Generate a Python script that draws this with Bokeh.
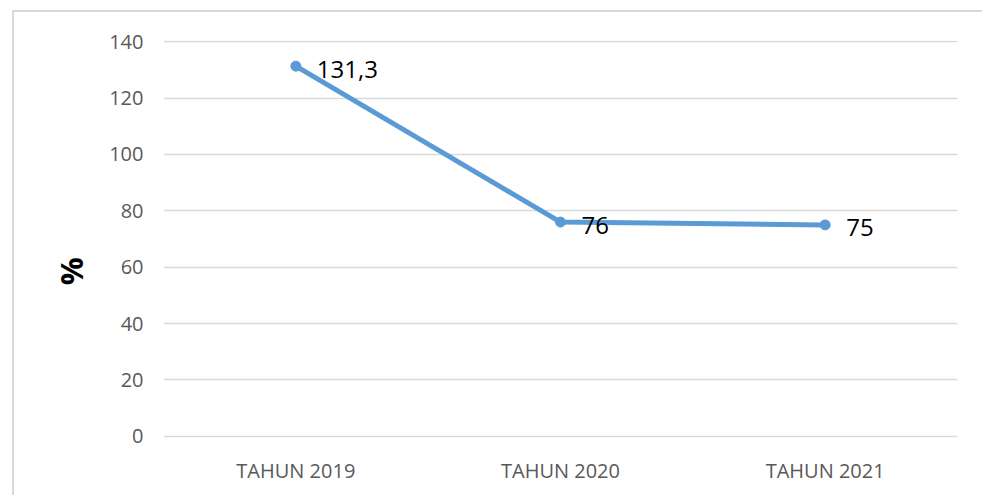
from bokeh.plotting import figure
from bokeh.models import ColumnDataSource, FixedTicker, InlineStyleSheet
from bokeh.core.properties import value
from bokeh.embed import file_html
from bokeh.resources import INLINE

categories = ["TAHUN 2019", "TAHUN 2020", "TAHUN 2021"]
values = [131.3, 76, 75]
value_labels = ["131,3", "76", "75"]
y_ticks = [0, 20, 40, 60, 80, 100, 120, 140]

FONT = "Open Sans"
BLUE = "#5b9bd5"
GRID = "#d9d9d9"
TICKC = "#595959"

src = ColumnDataSource(dict(x=categories, y=values, lab=value_labels))

p = figure(x_range=categories, y_range=(-0.4, 140.4), width=982, height=495,
           output_backend="svg", toolbar_location=None,
           min_border_left=163, min_border_right=25, min_border_top=40, min_border_bottom=58)
p.outline_line_color = None
p.background_fill_color = "white"
p.border_fill_color = "white"

p.xgrid.grid_line_color = None
p.ygrid.grid_line_color = GRID
p.ygrid.grid_line_width = 1.5
p.yaxis.ticker = FixedTicker(ticks=y_ticks)

for ax in (p.xaxis, p.yaxis):
    ax.axis_line_color = None
    ax.major_tick_line_color = None
    ax.minor_tick_line_color = None
    ax.major_tick_out = 0
    ax.major_tick_in = 0
    ax.minor_tick_out = 0
    ax.major_label_text_font = FONT
    ax.major_label_text_font_size = "20px"
    ax.major_label_text_color = TICKC
p.yaxis.major_label_standoff = 20
p.xaxis.major_label_standoff = 19

p.yaxis.axis_label = "%" + "\u00a0" * 8
p.yaxis.axis_label_text_font = FONT
p.yaxis.axis_label_text_font_size = "31px"
p.yaxis.axis_label_text_font_style = "bold"
p.yaxis.axis_label_text_color = "black"
p.yaxis.axis_label_standoff = 14

p.line("x", "y", source=src, line_color=BLUE, line_width=5)
p.scatter("x", "y", source=src, size=10, fill_color=BLUE, line_color=BLUE)
p.text("x", "y", text="lab", source=src, x_offset=21, y_offset=3,
       text_font=value(FONT), text_font_size="24px", text_color="black",
       text_align="left", text_baseline="middle")

p.stylesheets = [InlineStyleSheet(css="""
:host { position: relative; }
:host::before {
  content: ""; position: absolute; left: 12px; top: 10px;
  width: 1200px; height: 800px;
  border-left: 2px solid #d9d9d9; border-top: 2px solid #d9d9d9;
  pointer-events: none; z-index: 5;
}
""")]

open("out.html", "w").write(file_html(p, INLINE))
